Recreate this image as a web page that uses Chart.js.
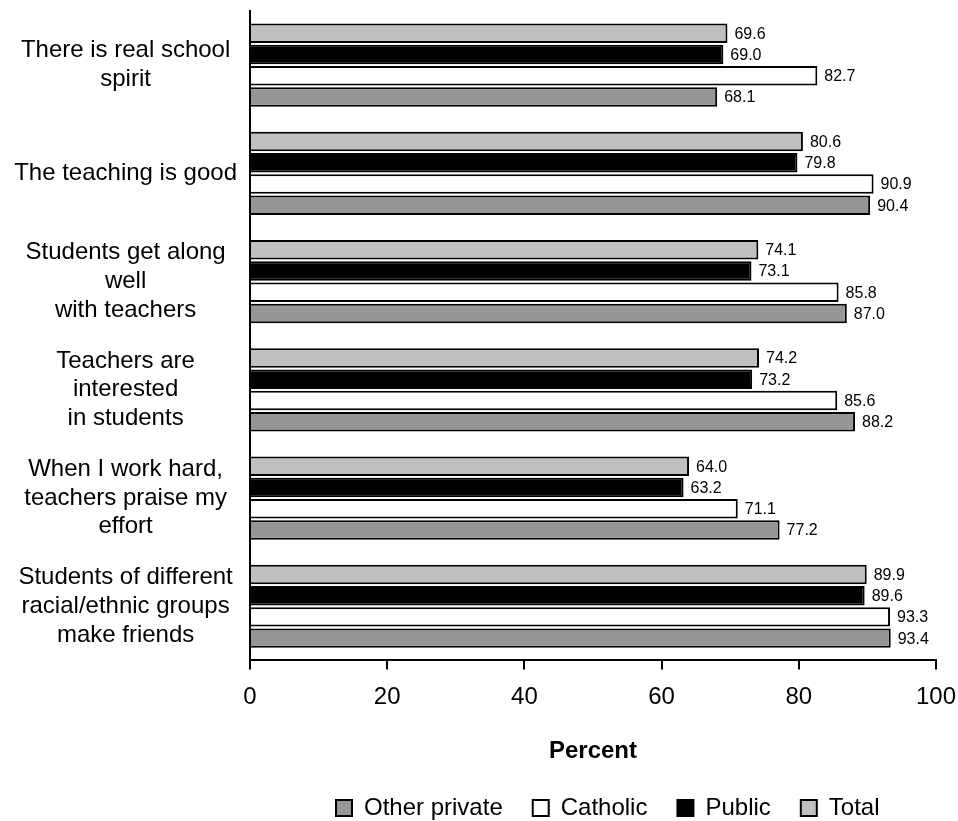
<!DOCTYPE html>
<html>
<head>
<meta charset="utf-8">
<script src="https://cdn.jsdelivr.net/npm/chart.js@4.4.1/dist/chart.umd.min.js"></script>
<style>
  html, body { margin: 0; padding: 0; background: #ffffff; }
  #wrap { width: 958px; height: 821px; position: relative; }
</style>
</head>
<body>
<div id="wrap"><canvas id="c"></canvas></div>
<script>
const categories = [
  ["There is real school", "spirit"],
  ["The teaching is good"],
  ["Students get along", "well", "with teachers"],
  ["Teachers are", "interested", "in students"],
  ["When I work hard,", "teachers praise my", "effort"],
  ["Students of different", "racial/ethnic groups", "make friends"]
];
const seriesNames = ["Total", "Public", "Catholic", "Other private"];
const totalValues = [69.6, 80.6, 74.1, 74.2, 64.0, 89.9];
const publicValues = [69.0, 79.8, 73.1, 73.2, 63.2, 89.6];
const catholicValues = [82.7, 90.9, 85.8, 85.6, 71.1, 93.3];
const otherPrivateValues = [68.1, 90.4, 87.0, 88.2, 77.2, 93.4];
const xTicks = [0, 20, 40, 60, 80, 100];
const axisTitle = "Percent";

const FONT = "'Liberation Sans', Arial, Helvetica, sans-serif";
const fills = ["#c0c0c0", "#000000", "#ffffff", "#969696"];
const seriesValues = [totalValues, publicValues, catholicValues, otherPrivateValues];

const datasets = seriesNames.map((name, i) => ({
  label: name,
  data: seriesValues[i],
  backgroundColor: fills[i],
  borderColor: "#000000",
  borderWidth: 2,
  categoryPercentage: 0.785,
  barPercentage: 0.915
}));

const valueLabels = {
  id: "valueLabels",
  afterDatasetsDraw(chart) {
    const ctx = chart.ctx;
    ctx.save();
    ctx.font = "16px " + FONT;
    ctx.fillStyle = "#000";
    ctx.textAlign = "left";
    ctx.textBaseline = "middle";
    chart.data.datasets.forEach((ds, di) => {
      const meta = chart.getDatasetMeta(di);
      meta.data.forEach((bar, i) => {
        ctx.fillText(Number(ds.data[i]).toFixed(1), bar.x + 7, bar.y + 1);
      });
    });
    ctx.restore();
  }
};

const legendShift = {
  id: "legendShift",
  afterLayout(chart) {
    const lg = chart.legend;
    if (!lg) return;
    lg.left = 306;
    lg.right = 958;
  }
};

new Chart(document.getElementById("c"), {
  type: "bar",
  data: { labels: categories, datasets },
  plugins: [valueLabels, legendShift],
  options: {
    indexAxis: "y",
    responsive: true,
    maintainAspectRatio: false,
    animation: false,
    layout: { padding: { left: 0, right: 22, top: 11, bottom: -9 } },
    scales: {
      x: {
        min: 0,
        max: 100,
        afterBuildTicks(scale) { scale.ticks = xTicks.map(v => ({ value: v })); },
        ticks: {
          color: "#000",
          font: { family: FONT, size: 24 },
          padding: 14,
          maxRotation: 0
        },
        grid: {
          drawOnChartArea: false,
          drawTicks: true,
          tickLength: 9,
          color: "#000",
          lineWidth: 2
        },
        border: { display: true, color: "#000", width: 2 },
        title: {
          display: true,
          text: axisTitle,
          color: "#000",
          font: { family: FONT, size: 24, weight: "bold" },
          padding: { top: 11, bottom: 0 }
        },
        afterFit(scale) { scale.paddingLeft = 0; scale.paddingRight = 0; }
      },
      y: {
        ticks: {
          color: "#000",
          font: { family: FONT, size: 24, lineHeight: 1.2 },
          crossAlign: "center",
          padding: 13,
          autoSkip: false
        },
        grid: { display: false, drawTicks: false },
        border: { display: true, color: "#000", width: 2 },
        afterFit(scale) { scale.width = 250; scale.paddingTop = 0; scale.paddingBottom = 0; }
      }
    },
    plugins: {
      legend: {
        position: "bottom",
        align: "start",
        reverse: true,
        labels: {
          color: "#000",
          font: { family: FONT, size: 24 },
          boxWidth: 16,
          boxHeight: 16,
          padding: 30
        }
      },
      tooltip: { enabled: false }
    }
  }
});
</script>
</body>
</html>
